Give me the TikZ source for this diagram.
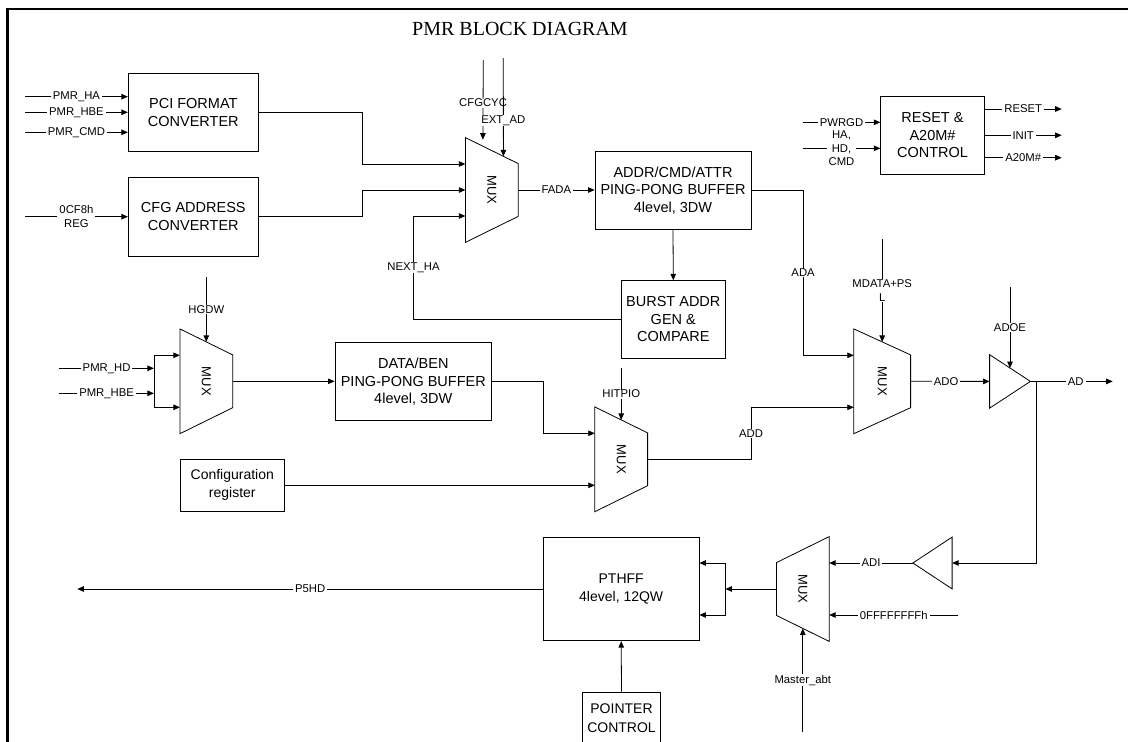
\documentclass[tikz,border=0pt]{standalone}
\usepackage{fontspec}
\usepackage{graphicx}
\setmainfont{Liberation Sans}
\newfontfamily\titlefont{Liberation Serif}
\usetikzlibrary{arrows.meta,calc}

\begin{document}
\begin{tikzpicture}[x=1pt,y=-1pt,line width=0.8pt,
  >={Triangle[length=6.5pt,width=5.5pt]},
  blk/.style={draw,align=center,inner sep=0pt,font=\fontsize{14.5}{17.5}\selectfont},
  lbl/.style={fill=white,inner xsep=2pt,inner ysep=0.5pt,align=center,font=\fontsize{11.3}{13.6}\selectfont},
  muxbox/.style={minimum width=52pt,minimum height=104pt,inner sep=0pt,font=\fontsize{13}{15}\selectfont},
  bufbox/.style={inner sep=0pt}]
\useasboundingbox (0,0) rectangle (1128,742);

%% Page frame and title
\draw[line width=2.7pt] (7.3,742) -- (7.3,9) -- (1128,9);
\node[font=\titlefont\fontsize{20}{24}\selectfont] (title) at (520,29) {PMR BLOCK DIAGRAM};

%% Blocks
\node[blk,minimum width=130pt,minimum height=78.4pt] (pci) at (193.3,112.5) {PCI FORMAT\\CONVERTER};
\node[blk,minimum width=130pt,minimum height=78.7pt] (cfg) at (193.3,216.7) {CFG ADDRESS\\CONVERTER};
\node[blk,minimum width=156pt,minimum height=77.6pt] (addr) at (673,190.5) {ADDR/CMD/ATTR\\PING-PONG BUFFER\\4level, 3DW};
\node[blk,minimum width=103.3pt,minimum height=77.6pt] (burst) at (673.3,319.5) {BURST ADDR\\GEN \&\\COMPARE};
\node[blk,minimum width=156.7pt,minimum height=78pt] (data) at (413.3,381.7) {DATA/BEN\\PING-PONG BUFFER\\4level, 3DW};
\node[blk,minimum width=104pt,minimum height=52pt,font=\fontsize{14}{18}\selectfont] (cfgreg) at (232.3,485.3) {Configuration\\register};
\node[blk,minimum width=155.7pt,minimum height=103.4pt,font=\fontsize{14}{17.3}\selectfont] (pth) at (621.2,589) {PTHFF\\4level, 12QW};
\node[blk,minimum width=78.4pt,minimum height=52pt,font=\fontsize{14}{18.4}\selectfont] (pc) at (621.5,718) {POINTER\\CONTROL};
\node[blk,minimum width=103.6pt,minimum height=77.3pt] (rst) at (932.5,135.3) {RESET \&\\A20M\#\\CONTROL};

%% Muxes
\node[muxbox] (m1) at (491.8,190) {\rotatebox{-90}{MUX}};
\node[muxbox] (m2) at (206.3,381.3) {\rotatebox{-90}{MUX}};
\node[muxbox] (m3) at (621.2,459.3) {\rotatebox{-90}{MUX}};
\node[muxbox,minimum width=56pt] (m4) at (882.2,381.3) {\rotatebox{-90}{MUX}};
\node[muxbox] (m5) at (802.8,589) {\rotatebox{-90}{MUX}};
\foreach \m in {m1,m2,m3,m4}
  \draw (\m.north west) -- (\m.south west) -- ([yshift=26pt]\m.south east) -- ([yshift=-26pt]\m.north east) -- cycle;
\draw (m5.north east) -- (m5.south east) -- ([yshift=26pt]m5.south west) -- ([yshift=-26pt]m5.north west) -- cycle;

%% Buffers
\node[bufbox,minimum width=40pt,minimum height=52.7pt] (tb) at (1010,381.4) {};
\node[bufbox,minimum width=38.4pt,minimum height=51pt] (tb2) at (932.5,563) {};
\draw (tb.north west) -- (tb.east) -- (tb.south west) -- cycle;
\draw (tb2.north east) -- (tb2.west) -- (tb2.south east) -- cycle;

%% Free ends
\coordinate (ha) at (25,96.7);
\coordinate (hbe) at (25,112.3);
\coordinate (cmd) at (25,132.3);
\coordinate (cf8) at (25,216.7);
\coordinate (cfgcyc) at (483.3,60);
\coordinate (extad) at (503.3,58);
\coordinate (pwrgd) at (802.7,122.3);
\coordinate (hahd) at (802.7,148.3);
\coordinate (rsto) at (1061.7,109);
\coordinate (inito) at (1061.7,135.3);
\coordinate (a20o) at (1061.7,157.7);
\coordinate (hgdw) at (206.3,277.3);
\coordinate (hd) at (59.3,368.3);
\coordinate (hbe2) at (59.3,393.3);
\coordinate (hitpio) at (621.2,368.3);
\coordinate (mdata) at (882.2,239);
\coordinate (adoe) at (1010,286.7);
\coordinate (adout) at (1112.7,381.4);
\coordinate (ffff) at (958.3,615);
\coordinate (mabt) at (802.8,731.7);
\coordinate (p5hd) at (77.3,589);

% PCI / CFG inputs
\draw[->] (ha) -- node[lbl]{PMR\_HA} (ha -| pci.west);
\draw[->] (hbe) -- node[lbl]{PMR\_HBE} (hbe -| pci.west);
\draw[->] (cmd) -- node[lbl]{PMR\_CMD} (cmd -| pci.west);
\draw[->] (cf8) -- node[lbl]{0CF8h\\REG} (cfg.west);

% first mux
\draw[->] (pci.east) -- ++(104,0) |- ([yshift=26pt]m1.west);
\draw[->] (cfg.east) -- ++(104,0) |- (m1.west);
\draw[->] (burst.west) -- ++(-207.7,0) |- node[lbl,pos=.25]{NEXT\_HA} ([yshift=-26pt]m1.west);
\draw[->,shorten >=6.5pt] (cfgcyc) -- node[lbl]{CFGCYC} ($(m1.north west)!.33!([yshift=-26pt]m1.north east)$);
\draw[->] (extad) -- node[lbl,pos=.64]{EXT\_AD} ($(m1.north west)!.72!([yshift=-26pt]m1.north east)$);
\draw[->] (m1.east) -- node[lbl]{FADA} (m1.east -| addr.west);
\draw[->] (addr.south) -- (burst.north);

% reset block
\draw[->] (pwrgd) -- node[lbl]{PWRGD} (pwrgd -| rst.west);
\draw[->] (hahd) -- node[lbl]{HA,\\HD,\\CMD} (hahd -| rst.west);
\draw[->] (rsto -| rst.east) -- node[lbl]{RESET} (rsto);
\draw[->] (inito -| rst.east) -- node[lbl]{INIT} (inito);
\draw[->] (a20o -| rst.east) -- node[lbl]{A20M\#} (a20o);

% data path
\draw[->] (hgdw) -- node[lbl]{HGDW} ([yshift=-13pt]m2.north);
\coordinate (bus2t) at ([xshift=-26pt,yshift=26pt]m2.west);
\coordinate (bus2b) at ([xshift=-26pt,yshift=-26pt]m2.west);
\draw[<->] ([yshift=26pt]m2.west) -- (bus2t) -- (bus2b) -- ([yshift=-26pt]m2.west);
\draw[->] (hd) -- node[lbl]{PMR\_HD} (hd -| bus2t);
\draw[->] (hbe2) -- node[lbl]{PMR\_HBE} (hbe2 -| bus2t);
\draw[->] (m2.east) -- (m2.east -| data.west);
\draw[->] (data.east) -- ++(51.6,0) |- ([yshift=26pt]m3.west);
\draw[->] (cfgreg.east) -- (cfgreg.east -| m3.west);
\draw[->] (hitpio) -- node[lbl]{HITPIO} ([yshift=-13pt]m3.north);

% output mux and AD pad
\draw[->] (addr.east) -- ++(51.7,0) |- node[lbl,pos=.25]{ADA} ([yshift=26pt]m4.west);
\draw[->] (m3.east) -- ++(103.5,0) |- node[lbl,pos=.25]{ADD} ([yshift=-26pt]m4.west);
\draw[->] (mdata) -- node[lbl]{MDATA+PS\\L} ([yshift=-13pt]m4.north);
\draw[->] (m4.east) -- node[lbl,pos=.45]{ADO} (tb.west);
\draw[->] (adoe) -- node[lbl]{ADOE} ($(tb.north west)!.5!(tb.east)$);
\draw[->] (tb.east) -- node[lbl,pos=.55]{AD} (adout);
\coordinate (adj) at ([xshift=6pt]tb.east);
\draw[->] (adj) |- (tb2.east);

% read path
\draw[->] (tb2.west) -- node[lbl]{ADI} ([yshift=26pt]m5.east);
\draw[->] (ffff) -- node[lbl]{0FFFFFFFFh} ([yshift=-26pt]m5.east);
\draw[->] (mabt) -- node[lbl]{Master\_abt} ([yshift=13pt]m5.south);
\coordinate (bus5t) at ([xshift=26pt,yshift=26pt]pth.east);
\coordinate (bus5b) at ([xshift=26pt,yshift=-26pt]pth.east);
\draw[<->] ([yshift=26pt]pth.east) -- (bus5t) -- (bus5b) -- ([yshift=-26pt]pth.east);
\draw[->] (m5.west) -- (m5.west -| bus5t);
\draw[->] (pth.west) -- node[lbl]{P5HD} (p5hd);
\draw[->] (pc.north) -- (pth.south);

\end{tikzpicture}
\end{document}
